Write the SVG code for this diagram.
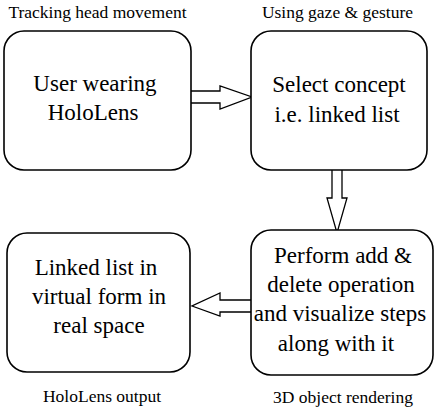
<svg xmlns="http://www.w3.org/2000/svg" width="435" height="410" viewBox="0 0 435 410">
<style>
.box{fill:#fff;stroke:#000;stroke-width:1.6}
.arr{fill:#fff;stroke:#000;stroke-width:1.3;stroke-linejoin:miter}
.t{font-family:'Liberation Serif','Times New Roman',serif;font-size:23px;fill:#000;text-anchor:middle}
.l{font-family:'Liberation Serif','Times New Roman',serif;font-size:17.5px;fill:#000;text-anchor:middle}
</style>
<rect width="435" height="410" fill="#fff"/>
<g id="labels">
<text class="l" x="97.5" y="18">Tracking head movement</text>
<text class="l" x="337.5" y="18">Using gaze &amp; gesture</text>
<text class="l" x="102" y="402">HoloLens output</text>
<text class="l" x="343" y="403">3D object rendering</text>
</g>
<g id="connectors">
<path class="arr" d="M191,91 H220 V86 L252,97 L220,109 V103 H191"/>
<path class="arr" d="M332,170 V198 H327 L337,233 L347,198 H342 V170"/>
<path class="arr" d="M252,300 H220 V293 L192,306 L220,316 V312 H252"/>
</g>
<g id="node-user">
<rect class="box" x="4" y="31" width="187" height="139" rx="20"/>
<text class="t" x="95" y="91">User wearing</text>
<text class="t" x="93" y="120">HoloLens</text>
</g>
<g id="node-select">
<rect class="box" x="251" y="31" width="176" height="139" rx="20"/>
<text class="t" x="339" y="92">Select concept</text>
<text class="t" x="337" y="122">i.e. linked list</text>
</g>
<g id="node-perform">
<rect class="box" x="251" y="230" width="182" height="145" rx="20"/>
<text class="t" x="343" y="263">Perform add &amp;</text>
<text class="t" x="341" y="292">delete operation</text>
<text class="t" x="340" y="321">and visualize steps</text>
<text class="t" x="336" y="351">along with it</text>
</g>
<g id="node-output">
<rect class="box" x="7" y="233" width="183" height="139" rx="20"/>
<text class="t" x="96" y="275">Linked list in</text>
<text class="t" x="99" y="304">virtual form in</text>
<text class="t" x="99" y="333">real space</text>
</g>
</svg>
